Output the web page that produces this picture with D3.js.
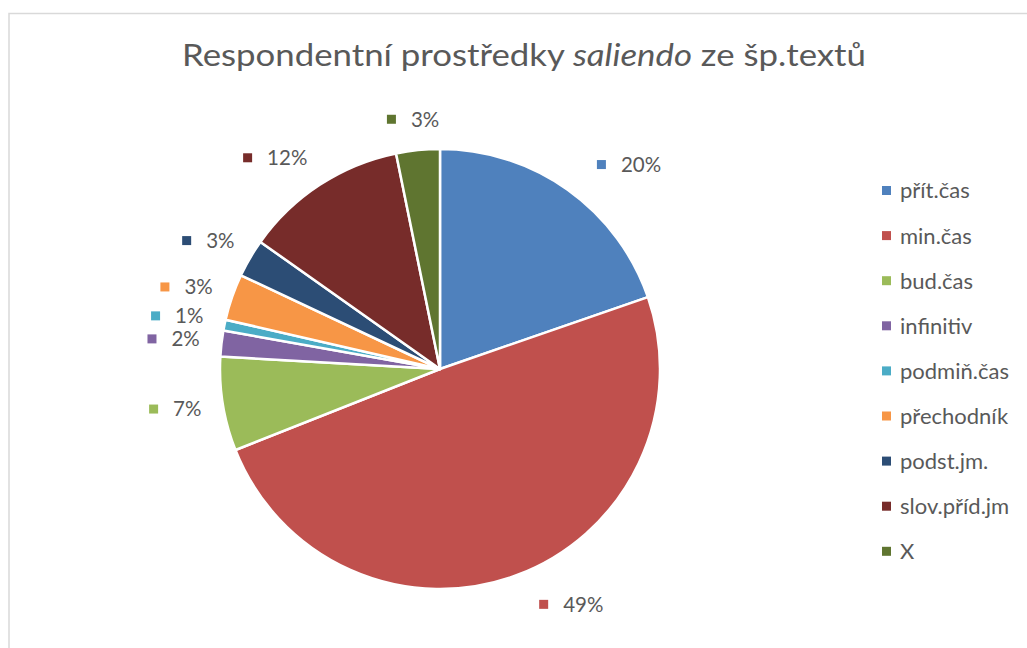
<!DOCTYPE html>
<html>
<head>
<meta charset="utf-8">
<script src="https://cdn.jsdelivr.net/npm/d3@7"></script>
<style>
  body { margin: 0; background: #fff; }
  text { font-family: Lato, "Open Sans", sans-serif; fill: #595959; }
</style>
</head>
<body>
<script>
'use strict';

// categories, in pie order (clockwise from 12 o'clock)
const categories = ["přít.čas", "min.čas", "bud.čas", "infinitiv", "podmiň.čas",
  "přechodník", "podst.jm.", "slov.příd.jm", "X"];
// shares in percent
const values = [19.7, 49.3, 6.9, 1.9, 0.8, 3.4, 2.8, 12.0, 3.2];
const colors = ["#4F81BD", "#C0504D", "#9BBB59", "#8064A2", "#4BACC6",
  "#F79646", "#2C4D75", "#772C2A", "#5F7530"];

const width = 1027, height = 648;
const cx = 440, cy = 369, radius = 220;

// Excel "best fit" moved a few labels aside: [dx, dy]
const labelNudge = {
  "přít.čas": [30, 0],
  "min.čas": [36, 0],
  "podmiň.čas": [0, -3],
  "infinitiv": [0, -1],
  "podst.jm.": [0, -2],
  "slov.příd.jm": [-15, -1]
};

const svg = d3.select('body').append('svg')
  .attr('width', width)
  .attr('height', height);

// chart area border (runs off the right and bottom edges)
svg.append('rect')
  .attr('x', 9).attr('y', 13.5)
  .attr('width', 1100).attr('height', 700)
  .attr('fill', 'none')
  .attr('stroke', '#d9d9d9')
  .attr('stroke-width', 1.5);

// title
const title = svg.append('text')
  .attr('x', 524).attr('y', 66)
  .attr('text-anchor', 'middle')
  .attr('textLength', 684)
  .attr('lengthAdjust', 'spacingAndGlyphs')
  .style('font-size', '30px');
title.append('tspan').text('Respondentní prostředky ');
title.append('tspan').style('font-style', 'italic').text('saliendo');
title.append('tspan').text(' ze šp.textů');

// pie
const pie = d3.pie().sort(null).value(d => d);
const arcs = pie(values);
const arc = d3.arc().innerRadius(0).outerRadius(radius);
const color = d3.scaleOrdinal().domain(categories).range(colors);

const g = svg.append('g').attr('transform', `translate(${cx},${cy})`);
g.selectAll('path')
  .data(arcs)
  .enter()
  .append('path')
  .attr('d', arc)
  .attr('fill', (d, i) => color(categories[i]))
  .attr('stroke', '#fff')
  .attr('stroke-width', 2.5)
  .attr('stroke-linejoin', 'round');

// data labels: marker square + percentage, placed just outside the pie
const gap = 22;
arcs.forEach((d, i) => {
  const mid = (d.startAngle + d.endAngle) / 2;
  const ux = Math.sin(mid), uy = -Math.cos(mid);
  const nudge = labelNudge[categories[i]] || [0, 0];
  const lg = g.append('g');
  lg.append('rect')
    .attr('width', 9).attr('height', 9)
    .attr('y', -4.5)
    .attr('fill', color(categories[i]));
  const t = lg.append('text')
    .attr('x', 24)
    .attr('dy', '0.36em')
    .style('font-size', '20.5px')
    .text(Math.round(d.value) + '%');
  const w = 24 + t.node().getComputedTextLength();
  const hw = w / 2, hh = 9;
  const px = ux * (radius + gap) + ux * hw + nudge[0];
  const py = uy * (radius + gap) + uy * hh + nudge[1];
  lg.attr('transform', `translate(${px - hw},${py})`);
});

// legend
const legend = svg.append('g').attr('transform', 'translate(882, 190.5)');
const rows = legend.selectAll('g')
  .data(categories)
  .enter()
  .append('g')
  .attr('transform', (d, i) => `translate(0, ${i * 45.1})`);
rows.append('rect')
  .attr('width', 9).attr('height', 9)
  .attr('y', -4.5)
  .attr('fill', d => color(d));
rows.append('text')
  .attr('x', 18)
  .attr('dy', '0.36em')
  .style('font-size', '22px')
  .text(d => d);
</script>
</body>
</html>
